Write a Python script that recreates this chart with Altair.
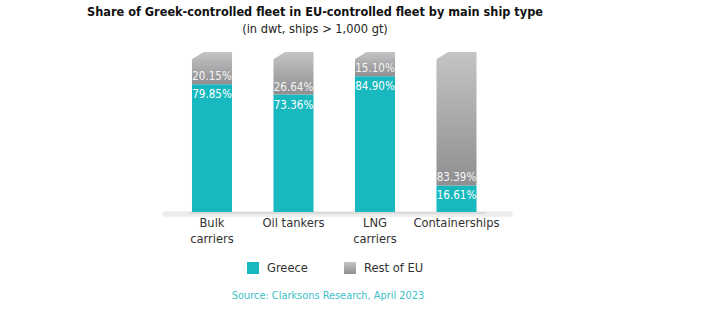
import altair as alt
import pandas as pd

categories = ["Bulk carriers", "Oil tankers", "LNG carriers", "Containerships"]
axis_labels = ["Bulk\ncarriers", "Oil tankers", "LNG\ncarriers", "Containerships"]
greece = [79.85, 73.36, 84.90, 16.61]
rest_of_eu = [20.15, 26.64, 15.10, 83.39]

FONT = "DejaVu Sans Condensed, Roboto"
TEAL = "#17b9be"

df = pd.DataFrame({
    "cat": categories,
    "label": axis_labels,
    "greece": greece,
    "rest": rest_of_eu,
})
df["total"] = df["greece"] + df["rest"]
df["g_txt"] = df["greece"].map(lambda v: f"{v:.2f}%")
df["r_txt"] = df["rest"].map(lambda v: f"{v:.2f}%")

x = alt.X("cat:N", sort=categories, axis=None,
          scale=alt.Scale(range=[171.25, 497.25], paddingInner=0.509, paddingOuter=0.2545))
yscale = alt.Scale(domain=[0, 100], range=[212, 52])

base = alt.Chart(df)

gray_grad = alt.Gradient(
    gradient="linear",
    stops=[alt.GradientStop(color="#c4c4c6", offset=0),
           alt.GradientStop(color="#8f8f91", offset=1)],
    x1=0, x2=0, y1=0, y2=1,
)

shadow1 = base.mark_rule(color="#ececec", strokeWidth=5, opacity=0.6, strokeCap="round").encode(
    x=alt.value(165), x2=alt.value(510), y=alt.value(214)
)
shadow2 = base.mark_rule(color="#dadada", strokeWidth=2, opacity=0.6, strokeCap="round").encode(
    x=alt.value(190), x2=alt.value(485), y=alt.value(213)
)

bars_g = base.mark_bar(color=TEAL).encode(
    x=x, y=alt.Y("greece:Q", scale=yscale, axis=None), y2=alt.value(212)
)
bars_r = base.mark_bar(color=gray_grad).encode(
    x=x, y=alt.Y("greece:Q", scale=yscale, axis=None), y2=alt.Y2("total:Q")
)
chamfer = base.mark_point(
    shape="M 0 0 L 1.6 0 L 0 1 Z", size=256, filled=True, color="white",
    opacity=1, strokeWidth=0, xOffset=-20.5, yOffset=-0.5
).encode(x=x, y=alt.Y("total:Q", scale=yscale, axis=None))

txt_g = base.mark_text(font=FONT, fontSize=11.5, color="white", baseline="alphabetic", dy=14).encode(
    x=x, y=alt.Y("greece:Q", scale=yscale, axis=None), text="g_txt:N"
)
txt_r = base.mark_text(font=FONT, fontSize=11.5, color="#f4f4f4", baseline="alphabetic", dy=-4).encode(
    x=x, y=alt.Y("greece:Q", scale=yscale, axis=None), text="r_txt:N"
)
xlab = base.mark_text(font=FONT, fontSize=12.8, color="#333333", baseline="top", lineBreak="\n",
                      lineHeight=16).encode(
    x=x, y=alt.value(217), text="label:N"
)

one = alt.Chart(pd.DataFrame({"a": [0]}))
title = one.mark_text(font=FONT, fontSize=12.6, fontWeight="bold", color="#111111",
                      baseline="alphabetic", align="center").encode(
    x=alt.value(315), y=alt.value(16),
    text=alt.value("Share of Greek-controlled fleet in EU-controlled fleet by main ship type"))
subtitle = one.mark_text(font=FONT, fontSize=12.7, color="#222222",
                         baseline="alphabetic", align="center").encode(
    x=alt.value(315), y=alt.value(33), text=alt.value("(in dwt, ships > 1,000 gt)"))

leg_df = pd.DataFrame({"name": ["Greece", "Rest of EU"], "px": [253, 350]})
leg_sq_g = alt.Chart(leg_df.iloc[[0]]).mark_square(size=144, filled=True, color=TEAL, opacity=1).encode(
    x=alt.X("px:Q", scale=None), y=alt.value(268))
leg_sq_r = alt.Chart(leg_df.iloc[[1]]).mark_square(size=144, filled=True, color=gray_grad, opacity=1).encode(
    x=alt.X("px:Q", scale=None), y=alt.value(268))
leg_txt = alt.Chart(leg_df).mark_text(font=FONT, fontSize=12.8, color="#333333", align="left",
                                      baseline="middle", dx=14).encode(
    x=alt.X("px:Q", scale=None), y=alt.value(268), text="name:N")

source = one.mark_text(font=FONT, fontSize=10.9, color="#3cc0c6", baseline="middle", align="center").encode(
    x=alt.value(328), y=alt.value(296), text=alt.value("Source: Clarksons Research, April 2023"))

chart = alt.layer(
    shadow1, shadow2, bars_g, bars_r, chamfer, txt_g, txt_r, xlab, title, subtitle,
    leg_sq_g, leg_sq_r, leg_txt, source
).properties(
    width=704, height=329, autosize=alt.AutoSizeParams(type="none"), padding=0,
    background="white"
).configure_view(stroke=None)

chart.save("out.html", embed_options={"renderer": "svg", "actions": False})
